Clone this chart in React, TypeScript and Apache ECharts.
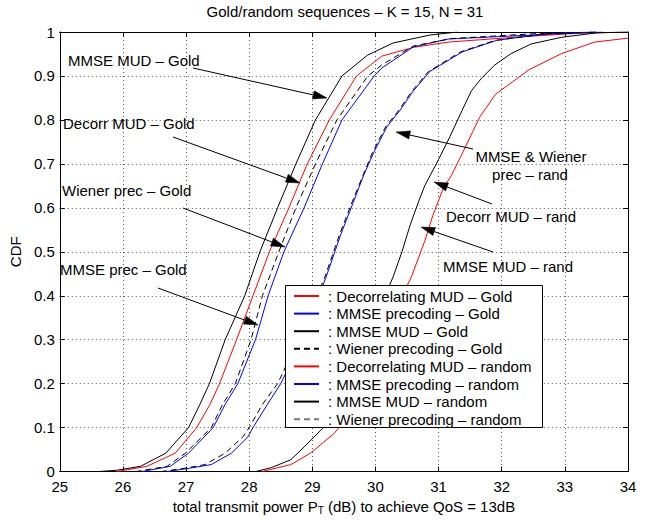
import React, { useEffect, useRef } from "react";
import * as echarts from "echarts";

// ---------- data (x = total transmit power in dB, y = CDF) ----------
const xTickValues = [25, 26, 27, 28, 29, 30, 31, 32, 33, 34];
const yTickValues = [0, 0.1, 0.2, 0.3, 0.4, 0.5, 0.6, 0.7, 0.8, 0.9, 1];

const goldDecorrMUD: [number, number][] = [
  [25.9, 0], [26.38, 0.012], [26.83, 0.042], [27.17, 0.1], [27.38, 0.153], [27.53, 0.2],
  [27.8, 0.3], [28.06, 0.4], [28.32, 0.5], [28.63, 0.6], [28.92, 0.7], [29.27, 0.8],
  [29.7, 0.9], [30.1, 0.945], [30.6, 0.965], [31.15, 0.977], [32.2, 0.988], [33.2, 0.997], [34, 1],
];
const goldMMSEPrec: [number, number][] = [
  [26.3, 0], [26.75, 0.012], [27.04, 0.042], [27.43, 0.1], [27.62, 0.153], [27.82, 0.2],
  [28.1, 0.3], [28.3, 0.4], [28.55, 0.5], [28.87, 0.6], [29.16, 0.7], [29.47, 0.8],
  [29.98, 0.9], [30.1, 0.918], [30.6, 0.966], [31.15, 0.984], [32.9, 0.996], [33.6, 1],
];
const goldMMSEMUD: [number, number][] = [
  [25.6, 0], [25.9, 0.003], [26.28, 0.012], [26.68, 0.042], [27.04, 0.1], [27.22, 0.153],
  [27.37, 0.2], [27.62, 0.3], [27.93, 0.4], [28.17, 0.5], [28.45, 0.6], [28.74, 0.7],
  [29.05, 0.8], [29.47, 0.9], [29.87, 0.947], [30.28, 0.975], [30.86, 0.993], [31.3, 1],
];
const goldWiener: [number, number][] = [
  [26.2, 0], [26.7, 0.012], [26.99, 0.042], [27.4, 0.1], [27.58, 0.153], [27.78, 0.2],
  [28.03, 0.3], [28.21, 0.4], [28.47, 0.5], [28.74, 0.6], [29.05, 0.7], [29.39, 0.8],
  [29.88, 0.9], [30.1, 0.925], [30.6, 0.968], [31.2, 0.985], [32.5, 0.996], [33.5, 1],
];
const randDecorrMUD: [number, number][] = [
  [28.2, 0], [28.66, 0.016], [28.97, 0.042], [29.18, 0.067], [29.34, 0.086], [29.47, 0.109],
  [29.52, 0.131], [30.57, 0.443], [30.78, 0.524], [30.91, 0.583], [31.07, 0.643], [31.2, 0.673],
  [31.38, 0.725], [31.65, 0.806], [31.9, 0.858], [32.43, 0.914], [32.95, 0.951], [33.47, 0.977], [34, 0.986],
];
const randMMSEPrec: [number, number][] = [
  [26.7, 0], [27.07, 0.008], [27.4, 0.016], [27.72, 0.042], [27.98, 0.079], [28.06, 0.1],
  [28.29, 0.153], [28.5, 0.2], [28.6, 0.23], [29.21, 0.439], [29.45, 0.539], [29.65, 0.613],
  [29.81, 0.673], [29.97, 0.725], [30.18, 0.784], [30.39, 0.822], [30.6, 0.866], [30.86, 0.91],
  [31.38, 0.955], [31.92, 0.981], [32.7, 0.996], [33.5, 1],
];
const randMMSEMUD: [number, number][] = [
  [28.1, 0], [28.35, 0.009], [28.66, 0.027], [28.87, 0.056], [29.03, 0.079], [29.18, 0.101],
  [29.29, 0.123], [29.38, 0.14], [30.28, 0.443], [30.42, 0.5], [30.55, 0.561], [30.68, 0.613],
  [30.78, 0.65], [31.0, 0.71], [31.18, 0.762], [31.37, 0.821], [31.52, 0.866], [31.68, 0.895],
  [31.89, 0.925], [32.15, 0.951], [32.47, 0.973], [32.95, 0.988], [33.5, 0.998], [34, 1],
];
const randWiener: [number, number][] = [
  [26.6, 0], [27.0, 0.008], [27.3, 0.016], [27.62, 0.042], [27.9, 0.079], [28.0, 0.1],
  [28.21, 0.153], [28.45, 0.2], [28.55, 0.23], [29.19, 0.439], [29.43, 0.539], [29.63, 0.613],
  [29.8, 0.673], [29.95, 0.725], [30.16, 0.784], [30.37, 0.822], [30.58, 0.866], [30.84, 0.91],
  [31.35, 0.955], [31.9, 0.981], [32.7, 0.996], [33.5, 1],
];

const seriesNames = [
  "Decorrelating MUD – Gold",
  "MMSE precoding – Gold",
  "MMSE MUD – Gold",
  "Wiener precoding – Gold",
  "Decorrelating MUD – random",
  "MMSE precoding – random",
  "MMSE MUD – random",
  "Wiener precoding – random",
];
const seriesData = [
  goldDecorrMUD, goldMMSEPrec, goldMMSEMUD, goldWiener,
  randDecorrMUD, randMMSEPrec, randMMSEMUD, randWiener,
];
const seriesColors = ["#ff0000", "#0000ff", "#000000", "#000000", "#ff0000", "#0000ff", "#000000", "#000000"];
const seriesDashed = [false, false, false, true, false, false, false, true];

const titleText = "Gold/random sequences – K = 15, N = 31";
const yName = "CDF";

// annotation texts
const annoTexts = [
  { text: "MMSE MUD – Gold", x: 68, y: 60, align: "left" },
  { text: "Decorr MUD – Gold", x: 63, y: 123, align: "left" },
  { text: "Wiener prec – Gold", x: 62, y: 190, align: "left" },
  { text: "MMSE prec – Gold", x: 60, y: 269, align: "left" },
  { text: "MMSE & Wiener", x: 531, y: 156, align: "center" },
  { text: "prec – rand", x: 530, y: 174, align: "center" },
  { text: "Decorr MUD – rand", x: 446, y: 216, align: "left" },
  { text: "MMSE MUD – rand", x: 443, y: 266, align: "left" },
];
const annoArrows = [
  [193, 68, 327, 98],
  [173, 137, 300, 183],
  [183, 208, 285, 247],
  [158, 288, 258, 325],
  [473, 149, 396, 132],
  [492, 204, 434, 182],
  [493, 252, 421, 227],
];

const FONT = '"Liberation Sans", Arial, Helvetica, sans-serif';
const FS = 15;

function arrowElems(a: number[]) {
  const [x1, y1, x2, y2] = a;
  const dx = x2 - x1, dy = y2 - y1;
  const len = Math.sqrt(dx * dx + dy * dy);
  const ux = dx / len, uy = dy / len;
  const L = 14, W = 4.2;
  const bx = x2 - ux * L, by = y2 - uy * L;
  const px = -uy, py = ux;
  return [
    { type: "line", z: 10, shape: { x1, y1, x2: bx, y2: by }, style: { stroke: "#000", lineWidth: 1 } },
    {
      type: "polygon", z: 10,
      shape: { points: [[x2, y2], [bx + px * W, by + py * W], [bx - px * W, by - py * W]] },
      style: { fill: "#000", stroke: "#000", lineWidth: 0.5 },
    },
  ];
}

export default function App() {
  const ref = useRef<HTMLDivElement>(null);
  useEffect(() => {
    if (!ref.current) return;
    const chart = echarts.init(ref.current, undefined, { renderer: "svg" });
    const gridLine = { show: true, lineStyle: { color: "#555", type: [1, 3], width: 1 } };
    const graphics: any[] = [
      {
        type: "rect", z: 3,
        shape: { x: 285.5, y: 285.5, width: 257, height: 142 },
        style: { fill: "#fff", stroke: "#000", lineWidth: 1 },
      },
    ];
    annoTexts.forEach((t) => {
      graphics.push({
        type: "text", z: 10, x: t.x, y: t.y,
        style: { text: t.text, fill: "#000", font: `${FS}px ${FONT}`, align: t.align, verticalAlign: "middle" },
      });
    });
    annoArrows.forEach((a) => graphics.push(...arrowElems(a)));

    chart.setOption({
      animation: false,
      backgroundColor: "#fff",
      textStyle: { fontFamily: FONT },
      title: {
        text: titleText, left: 345, top: 4, padding: 0, textAlign: "center",
        textStyle: { fontSize: FS, fontWeight: "normal", color: "#000", fontFamily: FONT },
      },
      grid: { left: 58, right: 19, top: 32, bottom: 38, containLabel: false },
      legend: {
        left: 293, top: 288, orient: "vertical", itemWidth: 25, itemHeight: 14, itemGap: 1.6,
        padding: 0, z: 4,
        itemStyle: { opacity: 0, borderWidth: 0 },
        data: seriesNames.map((n, i) => ({
          name: n,
          lineStyle: i === 7 ? { color: "#777" } : undefined,
        })),
        formatter: (n: string) => ": " + n,
        textStyle: { fontSize: FS, lineHeight: 16, color: "#000", fontFamily: FONT, padding: [0, 0, 0, 4] },
      },
      xAxis: [
        {
          type: "value", min: 25, max: 34, interval: 1, position: "bottom",
          name: "total transmit power P{sub|T} (dB) to achieve QoS = 13dB",
          nameLocation: "middle", nameGap: 19,
          nameTextStyle: {
            fontSize: FS, color: "#000", fontFamily: FONT,
            rich: { sub: { fontSize: 10, padding: [8, 0, 0, 0], color: "#000", fontFamily: FONT } },
          },
          axisLine: { show: true, onZero: false, lineStyle: { color: "#000", width: 1 } },
          axisTick: { show: true, inside: true, length: 5, lineStyle: { color: "#000" } },
          axisLabel: { show: true, fontSize: FS, color: "#000", margin: 7, fontFamily: FONT,
            formatter: (v: number) => (xTickValues.includes(v) ? String(v) : "") },
          splitLine: gridLine,
        },
        {
          type: "value", min: 25, max: 34, interval: 1, position: "top",
          axisLine: { show: true, onZero: false, lineStyle: { color: "#000", width: 1 } },
          axisTick: { show: true, inside: true, length: 5, lineStyle: { color: "#000" } },
          axisLabel: { show: false }, splitLine: { show: false },
        },
      ],
      yAxis: [
        {
          type: "value", min: 0, max: 1, interval: 0.1, position: "left",
          name: yName, nameLocation: "middle", nameGap: 36, nameRotate: 90,
          nameTextStyle: { fontSize: FS, color: "#000", fontFamily: FONT },
          axisLine: { show: true, onZero: false, lineStyle: { color: "#000", width: 1 } },
          axisTick: { show: true, inside: true, length: 5, lineStyle: { color: "#000" } },
          axisLabel: {
            show: true, fontSize: FS, color: "#000", margin: 5, fontFamily: FONT,
            formatter: (v: number) => {
              const t = yTickValues.find((y) => Math.abs(y - v) < 1e-6);
              if (t === undefined) return "";
              return t === 0 ? "0" : t === 1 ? "1" : t.toFixed(1);
            },
          },
          splitLine: gridLine,
        },
        {
          type: "value", min: 0, max: 1, interval: 0.1, position: "right",
          axisLine: { show: true, onZero: false, lineStyle: { color: "#000", width: 1 } },
          axisTick: { show: true, inside: true, length: 5, lineStyle: { color: "#000" } },
          axisLabel: { show: false }, splitLine: { show: false },
        },
      ],
      series: seriesNames.map((n, i) => ({
        name: n, type: "line", xAxisIndex: 0, yAxisIndex: 0, z: 2,
        data: seriesData[i], symbol: "none", showSymbol: false,
        color: seriesColors[i],
        lineStyle: { color: seriesColors[i], width: 1, type: seriesDashed[i] ? [6, 4] : "solid" },
      })),
      graphic: graphics,
    });
    return () => chart.dispose();
  }, []);
  return (
    <div
      ref={ref}
      style={{ position: "fixed", left: 0, top: 0, width: 647, height: 520, background: "#fff" }}
    />
  );
}
